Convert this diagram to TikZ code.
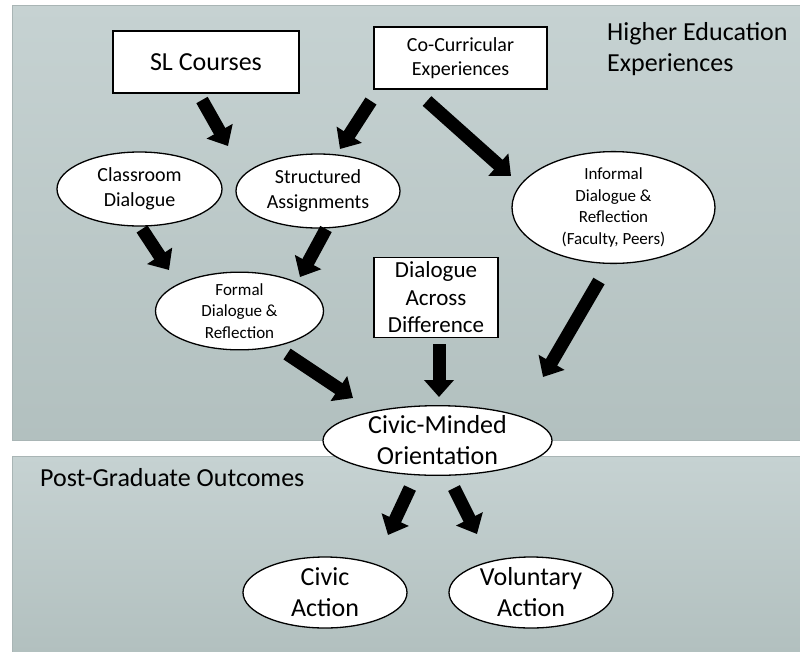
\documentclass[tikz,border=0pt]{standalone}
\usepackage{fontspec}
\setmainfont{Carlito}
\usetikzlibrary{shapes.geometric,arrows.meta}
\definecolor{paneltop}{HTML}{C6D2D2}
\definecolor{panelbot}{HTML}{B2C0BF}
\definecolor{panelline}{HTML}{A9B5B5}
\tikzset{
  box/.style={draw=black, line width=1.6pt, fill=white, inner sep=0pt, align=center},
  oval/.style={ellipse, draw=black, line width=1.3pt, fill=white, inner sep=0pt, align=center},
  fat/.style={line width=13pt, -{Triangle[width=29pt,length=17pt]}, black},
  fbig/.style={font=\fontsize{26}{31}\selectfont},
  fmid/.style={font=\fontsize{20}{24.5}\selectfont},
  fsml/.style={font=\fontsize{17}{21.5}\selectfont},
}
\begin{document}
\begin{tikzpicture}[x=1pt,y=-1pt]
\useasboundingbox (0,0) rectangle (800,651);
\fill[white] (0,0) rectangle (800,651);
% panels
\shade[top color=paneltop, bottom color=panelbot, draw=panelline, line width=0.8pt] (12,5) rectangle (801,440);
\shade[top color=paneltop, bottom color=panelbot, draw=panelline, line width=0.8pt] (12,456) rectangle (801,652);
% titles
\node[fbig, anchor=west, align=left, inner sep=0pt] (he) at (607,49) {Higher Education\\Experiences};
\node[fbig, anchor=west, inner sep=0pt] (pgo) at (40,478) {Post-Graduate Outcomes};
% nodes
\node[box, fbig, minimum width=186pt, minimum height=62pt] (sl) at (206,62) {SL Courses};
\node[box, fmid, minimum width=173pt, minimum height=62pt] (cc) at (460.5,58) {Co-Curricular\\Experiences};
\node[oval, fmid, minimum width=165pt, minimum height=74pt] (cd) at (139.5,189) {Classroom\\Dialogue};
\node[oval, fmid, minimum width=164pt, minimum height=74pt] (sa) at (318,191) {Structured\\Assignments};
\node[oval, fsml, minimum width=203pt, minimum height=101pt] (inf) at (613.5,207.5) {Informal\\Dialogue \&\\Reflection\\(Faculty, Peers)};
\node[oval, fsml, minimum width=168pt, minimum height=72pt] (fd) at (239.5,311) {Formal\\Dialogue \&\\Reflection};
\node[box, font=\fontsize{23}{27.5}\selectfont, minimum width=124pt, minimum height=80pt] (dad) at (436,297.5) {Dialogue\\Across\\Difference};
\node[oval, fbig, minimum width=229pt, minimum height=65pt] (cmo) at (437.5,440.5) {Civic-Minded\\Orientation};
\node[oval, fbig, minimum width=164pt, minimum height=71pt] (ca) at (325,592.5) {Civic\\Action};
\node[oval, fbig, minimum width=164pt, minimum height=71pt] (va) at (531,592.5) {Voluntary\\Action};
% arrow end points
\coordinate (a1s) at (202,100); \coordinate (a1e) at (228,146);
\coordinate (a2s) at (371,101); \coordinate (a2e) at (340,149);
\coordinate (a3s) at (427,101); \coordinate (a3e) at (511,176);
\coordinate (a4s) at (142,229); \coordinate (a4e) at (169,270);
\coordinate (a5s) at (326,229); \coordinate (a5e) at (300,277);
\coordinate (a6s) at (287,354); \coordinate (a6e) at (353,398);
\coordinate (a7s) at (439,344); \coordinate (a7e) at (439,397);
\coordinate (a8s) at (599,281); \coordinate (a8e) at (543,377);
\coordinate (a9s) at (410,488); \coordinate (a9e) at (388,535);
\coordinate (a10s) at (454,488); \coordinate (a10e) at (477,534);
\draw[fat] (a1s) -- (a1e);
\draw[fat] (a2s) -- (a2e);
\draw[fat] (a3s) -- (a3e);
\draw[fat] (a4s) -- (a4e);
\draw[fat] (a5s) -- (a5e);
\draw[fat] (a6s) -- (a6e);
\draw[fat] (a7s) -- (a7e);
\draw[fat] (a8s) -- (a8e);
\draw[fat] (a9s) -- (a9e);
\draw[fat] (a10s) -- (a10e);
\end{tikzpicture}
\end{document}
